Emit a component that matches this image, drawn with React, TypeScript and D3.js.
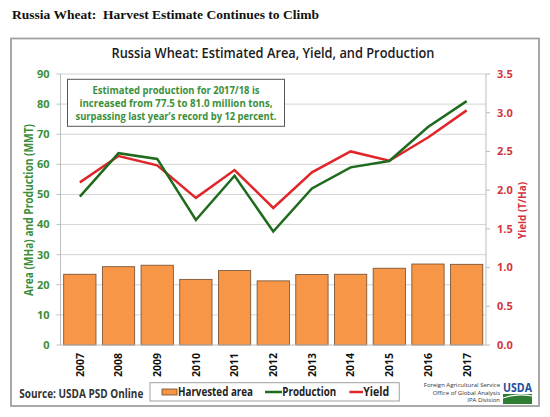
import React from "react";
import * as d3 from "d3";

const years = ["2007","2008","2009","2010","2011","2012","2013","2014","2015","2016","2017"];
const harvestedArea = [23.5, 26.0, 26.5, 21.8, 24.7, 21.3, 23.4, 23.5, 25.5, 26.9, 26.8];
const production = [49.3, 63.7, 61.8, 41.5, 56.2, 37.7, 52.0, 59.0, 61.1, 72.4, 81.0];
const yieldTHa = [2.10, 2.44, 2.32, 1.90, 2.26, 1.77, 2.23, 2.50, 2.38, 2.68, 3.03];
const leftTicks = [0, 10, 20, 30, 40, 50, 60, 70, 80, 90];
const rightTicks = [0, 0.5, 1.0, 1.5, 2.0, 2.5, 3.0, 3.5];
const noteLines = [
  "Estimated production for 2017/18 is",
  "increased from 77.5 to 81.0 million tons,",
  "surpassing last year\u2019s record by 12 percent.",
];

const SANS = "'Open Sans', 'Noto Sans', sans-serif";
const GREEN_TXT = "#3b8f3b";
const RED_TXT = "#d4343f";

export default function App() {
  const left = 60.5, right = 486, top = 74, bottom = 345;
  const x = d3.scaleBand<string>().domain(years).range([left, right]).paddingInner(0.165).paddingOuter(0.0825);
  const yL = d3.scaleLinear().domain([0, 90]).range([bottom, top]);
  const yR = d3.scaleLinear().domain([0, 3.5]).range([bottom, top]);
  const cx = (d: string) => (x(d) as number) + x.bandwidth() / 2;
  const prodLine = d3.line<number>().x((_, i) => cx(years[i])).y((v) => yL(v));
  const yieldLine = d3.line<number>().x((_, i) => cx(years[i])).y((v) => yR(v));

  return (
    <svg width={550} height={417} style={{ position: "absolute", left: 0, top: 0, background: "#fff" }}>
      <text x={12} y={19} style={{ whiteSpace: "pre" }} fontFamily="'Liberation Serif', 'Times New Roman', serif" fontWeight="bold" fontSize={13.5} fill="#111" textLength={307} lengthAdjust="spacingAndGlyphs">
        {"Russia Wheat:  Harvest Estimate Continues to Climb"}
      </text>
      <rect x={11} y={38.5} width={528} height={367.5} fill="#fff" stroke="#a0a0a0" strokeWidth={1.8} />
      <text x={273} y={58.3} textAnchor="middle" fontFamily={SANS} fontWeight={600} fontSize={15} fill="#1a1a1a" textLength={323} lengthAdjust="spacingAndGlyphs">
        Russia Wheat: Estimated Area, Yield, and Production
      </text>

      {/* gridlines */}
      {leftTicks.filter((t) => t > 0).map((t) => (
        <line key={"g" + t} x1={left} x2={right} y1={yL(t)} y2={yL(t)} stroke="#d4d4d4" strokeWidth={1} />
      ))}
      {/* axes lines */}
      <line x1={left} x2={left} y1={top} y2={bottom} stroke="#bdbdbd" />
      <line x1={right} x2={right} y1={top} y2={bottom} stroke="#bdbdbd" />
      {leftTicks.map((t) => (
        <line key={"lt" + t} x1={left - 4} x2={left} y1={yL(t)} y2={yL(t)} stroke="#bdbdbd" />
      ))}
      {rightTicks.map((t) => (
        <line key={"rt" + t} x1={right} x2={right + 4} y1={yR(t)} y2={yR(t)} stroke="#bdbdbd" />
      ))}

      {/* bars */}
      {years.map((yr, i) => (
        <rect key={"b" + yr} x={x(yr)} y={yL(harvestedArea[i])} width={x.bandwidth()} height={bottom - yL(harvestedArea[i])}
          fill="#f79646" stroke="#6e4a2e" strokeWidth={0.8} />
      ))}
      <line x1={left} x2={right} y1={bottom} y2={bottom} stroke="#bdbdbd" />

      {/* lines */}
      <path d={yieldLine(yieldTHa) || ""} fill="none" stroke="#e0262b" strokeWidth={2.5} strokeLinejoin="miter" />
      <path d={prodLine(production) || ""} fill="none" stroke="#1e6b1e" strokeWidth={2.5} strokeLinejoin="miter" />

      {/* left tick labels */}
      {leftTicks.map((t) => (
        <text key={"ll" + t} x={49.5} y={yL(t)} dy="0.35em" textAnchor="end" fontFamily={SANS} fontWeight="bold" fontSize={11} fill={GREEN_TXT}>
          {t}
        </text>
      ))}
      {rightTicks.map((t) => (
        <text key={"rl" + t} x={497} y={yR(t)} dy="0.35em" textAnchor="start" fontFamily={SANS} fontWeight="bold" fontSize={11} fill={RED_TXT}>
          {t.toFixed(1)}
        </text>
      ))}
      <text transform={`translate(28.5,210) rotate(-90)`} textAnchor="middle" dy="0.35em" fontFamily={SANS} fontWeight="bold" fontSize={11.5} fill={GREEN_TXT} textLength={172} lengthAdjust="spacingAndGlyphs">
        Area (MHa) and Production (MMT)
      </text>
      <text transform={`translate(522.5,210.5) rotate(-90)`} textAnchor="middle" dy="0.35em" fontFamily={SANS} fontWeight="bold" fontSize={11} fill={RED_TXT} textLength={57} lengthAdjust="spacingAndGlyphs">
        Yield (T/Ha)
      </text>

      {/* x labels */}
      {years.map((yr) => (
        <text key={"x" + yr} transform={`translate(${cx(yr)},353) rotate(-90)`} textAnchor="end" dy="0.35em" fontFamily={SANS} fontWeight="bold" fontSize={11} fill="#111" textLength={24} lengthAdjust="spacingAndGlyphs">
          {yr}
        </text>
      ))}

      {/* annotation */}
      <rect x={67.5} y={79.3} width={217} height={47} fill="#fff" stroke="#555" strokeWidth={1} />
      {noteLines.map((s, i) => (
        <text key={"n" + i} x={176} y={90 + i * 13.3} dy="0.35em" textAnchor="middle" fontFamily={SANS} fontWeight="bold" fontSize={10.5} fill={GREEN_TXT}
          textLength={[167, 193, 201][i]} lengthAdjust="spacingAndGlyphs">
          {s}
        </text>
      ))}

      {/* source */}
      <text x={19.3} y={393.3} dy="0.35em" fontFamily={SANS} fontWeight="bold" fontSize={12} fill="#333" textLength={124} lengthAdjust="spacingAndGlyphs">
        Source: USDA PSD Online
      </text>

      {/* legend */}
      <rect x={150} y={382.7} width={249.3} height={18.3} fill="#fff" stroke="#a0a0a0" strokeWidth={1} />
      <rect x={162} y={389} width={15} height={6} fill="#f79646" stroke="#6e4a2e" strokeWidth={0.8} />
      <text x={178} y={391.8} dy="0.35em" fontFamily={SANS} fontWeight="bold" fontSize={12} fill="#222" textLength={75} lengthAdjust="spacingAndGlyphs">Harvested area</text>
      <line x1={265} x2={282} y1={392} y2={392} stroke="#1e6b1e" strokeWidth={2.5} />
      <text x={282.3} y={391.8} dy="0.35em" fontFamily={SANS} fontWeight="bold" fontSize={12} fill="#222" textLength={54} lengthAdjust="spacingAndGlyphs">Production</text>
      <line x1={349.3} x2={363} y1={392} y2={392} stroke="#e0262b" strokeWidth={2.5} />
      <text x={363.2} y={391.8} dy="0.35em" fontFamily={SANS} fontWeight="bold" fontSize={12} fill="#222" textLength={26} lengthAdjust="spacingAndGlyphs">Yield</text>

      {/* USDA mark */}
      <text x={500} y={385} dy="0.35em" textAnchor="end" fontFamily={SANS} fontSize={6} fill="#333">Foreign Agricultural Service</text>
      <text x={500} y={392.7} dy="0.35em" textAnchor="end" fontFamily={SANS} fontSize={6} fill="#333">Office of Global Analysis</text>
      <text x={500} y={400.3} dy="0.35em" textAnchor="end" fontFamily={SANS} fontSize={6} fill="#333">IPA Division</text>
      <text x={503} y={392} fontFamily={SANS} fontWeight="bold" fontSize={13} fill="#1f4f9c" textLength={29} lengthAdjust="spacingAndGlyphs">USDA</text>
      <rect x={503} y={394} width={29} height={10} fill="#2e7d32" />
      <path d="M503,398 Q517,393 532,396" fill="none" stroke="#fff" strokeWidth={1.2} />
    </svg>
  );
}
